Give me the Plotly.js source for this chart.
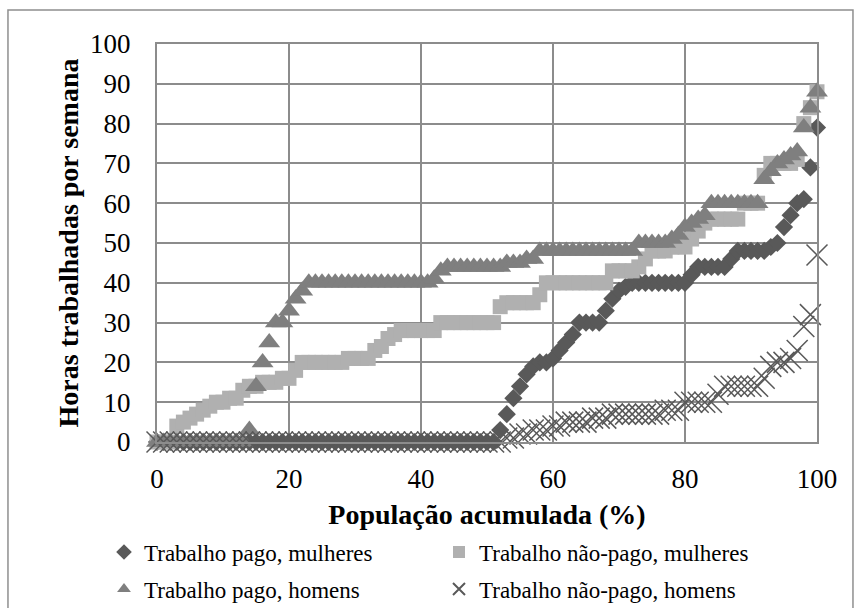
<!DOCTYPE html>
<html><head><meta charset="utf-8">
<script src="https://cdn.plot.ly/plotly-3.0.1.min.js"></script>
<style>html,body{margin:0;padding:0;background:#fff}#chart{width:861px;height:608px}</style>
</head><body><div id="chart"></div>
<script>
const pop = [0,1,2,3,4,5,6,7,8,9,10,11,12,13,14,15,16,17,18,19,20,21,22,23,24,25,26,27,28,29,30,31,32,33,34,35,36,37,38,39,40,41,42,43,44,45,46,47,48,49,50,51,52,53,54,55,56,57,58,59,60,61,62,63,64,65,66,67,68,69,70,71,72,73,74,75,76,77,78,79,80,81,82,83,84,85,86,87,88,89,90,91,92,93,94,95,96,97,98,99,100];

const pagoMulheres = [0,0,0,0,0,0,0,0,0,0,0,0,0,0,0,0,0,0,0,0,0,0,0,0,0,0,0,0,0,0,0,0,0,0,0,0,0,0,0,0,0,0,0,0,0,0,0,0,0,0,0,0,
  3,7,11,14,17,19,20,20,21,23,25,27,30,30,30,30,33,36,38,39,40,40,40,40,40,40,40,40,40,42,44,44,44,44,44,46,48,48,48,48,48,49,50,54,57,60,61,69,79];

const naoPagoMulheres = [0,0,0,4,5,6,7,8,9,10,10,11,11,13,14,14,15,15,15,16,16,18,20,20,20,20,20,20,20,21,21,21,21,23,24,26,27,28,28,28,28,28,28,
  30,30,30,30,30,30,30,30,30,34,35,35,35,35,35,37,40,40,40,40,40,40,40,40,40,40,43,43,43,43,44,46,48,48,48,49,49,49,51,53,55,56,56,56,56,56,60,60,60,67,70,70,70,70,71,80,84,88];

const pagoHomens = [0,0,0,0,0,0,0,0,0,0,0,0,0,0,3,14,20,25,30,30,33,36,38,
  40,40,40,40,40,40,40,40,40,40,40,40,40,40,40,40,40,40,40,41,43,44,44,44,44,44,44,44,44,44,45,45,45,46,46,
  48,48,48,48,48,48,48,48,48,48,48,48,48,48,48,50,50,50,50,50,51,52,54,55,56,57,60,60,60,60,60,60,60,60,66,68,70,71,72,73,79,84,88];

const naoPagoHomens = [0,0,0,0,0,0,0,0,0,0,0,0,0,0,0,0,0,0,0,0,0,0,0,0,0,0,0,0,0,0,0,0,0,0,0,0,0,0,0,0,0,0,0,0,0,0,0,0,0,0,0,0,0,
  1,1,2,2,3,3,3,4,4,5,5,5,5,6,6,6,7,7,7,7,7,7,7,7,8,8,8,10,10,10,10,10,12,14,14,14,14,14,14,16,19,20,20,21,23,29,32,47];

const seriesNames = ["Trabalho pago, mulheres","Trabalho não-pago, mulheres","Trabalho pago, homens","Trabalho não-pago, homens"];
const xTicks = [0,20,40,60,80,100];
const yTicks = [0,10,20,30,40,50,60,70,80,90,100];
const xTitle = "População acumulada (%)";
const yTitle = "Horas trabalhadas por semana";

const serif = "Liberation Serif, Times New Roman, serif";
const gridC = "#8c8c8c";

const traces = [
  {x: pop, y: pagoMulheres, name: seriesNames[0], type: "scatter", mode: "markers", cliponaxis: false, legend: "legend",
   marker: {symbol: "diamond", size: 14, color: "#595959"}},
  {x: pop, y: naoPagoMulheres, name: seriesNames[1], type: "scatter", mode: "markers", cliponaxis: false, legend: "legend2",
   marker: {symbol: "square", size: 15, color: "#b0b0b0"}},
  {x: pop, y: pagoHomens, name: seriesNames[2], type: "scatter", mode: "markers", cliponaxis: false, legend: "legend3",
   marker: {symbol: "triangle-up", size: 19, color: "#7f7f7f"}},
  {x: pop, y: naoPagoHomens, name: seriesNames[3], type: "scatter", mode: "markers", cliponaxis: false, legend: "legend4",
   marker: {symbol: "x-thin", size: 21, color: "#595959", line: {color: "#595959", width: 1.5}}}
];

function legendAt(px, py) {
  return {
    orientation: "h", xref: "container", yref: "container", xanchor: "left", yanchor: "middle",
    x: px / 861, y: 1 - py / 608, itemsizing: "constant",
    font: {family: serif, size: 23, color: "#000"},
    bgcolor: "rgba(0,0,0,0)", borderwidth: 0
  };
}

const layout = {
  width: 861, height: 608,
  margin: {l: 157, r: 44, t: 44, b: 165.5},
  paper_bgcolor: "#fff", plot_bgcolor: "#fff",
  showlegend: true,
  font: {family: serif, color: "#000"},
  xaxis: {
    range: [0, 100], tickvals: xTicks, ticktext: xTicks.map(String),
    showgrid: true, gridcolor: gridC, gridwidth: 2,
    showline: true, mirror: true, linecolor: gridC, linewidth: 2,
    zeroline: false, ticks: "", ticklabelstandoff: 12,
    tickfont: {family: serif, size: 27, color: "#000"},
    title: {text: xTitle, font: {family: serif, size: 28, color: "#000", weight: "bold"}, standoff: 30}
  },
  yaxis: {
    range: [0, 100], tickvals: yTicks, ticktext: yTicks.map(String),
    showgrid: true, gridcolor: gridC, gridwidth: 2,
    showline: true, mirror: true, linecolor: gridC, linewidth: 2,
    zeroline: false, ticks: "", ticklabelstandoff: 19,
    tickfont: {family: serif, size: 27, color: "#000"},
    title: {text: yTitle, font: {family: serif, size: 28, color: "#000", weight: "bold"}, standoff: 3}
  },
  legend: legendAt(104, 552),
  legend2: legendAt(439, 552),
  legend3: legendAt(104, 589),
  legend4: legendAt(439, 589),
  shapes: [{
    type: "rect", xref: "paper", yref: "paper",
    x0: -0.2258, x1: 1.0545, y0: -0.5, y1: 1.0853,
    line: {color: "#8f8f8f", width: 1.5}, fillcolor: "rgba(0,0,0,0)", layer: "below"
  }]
};

Plotly.newPlot("chart", traces, layout, {displayModeBar: false, staticPlot: true});
</script>
</body></html>
